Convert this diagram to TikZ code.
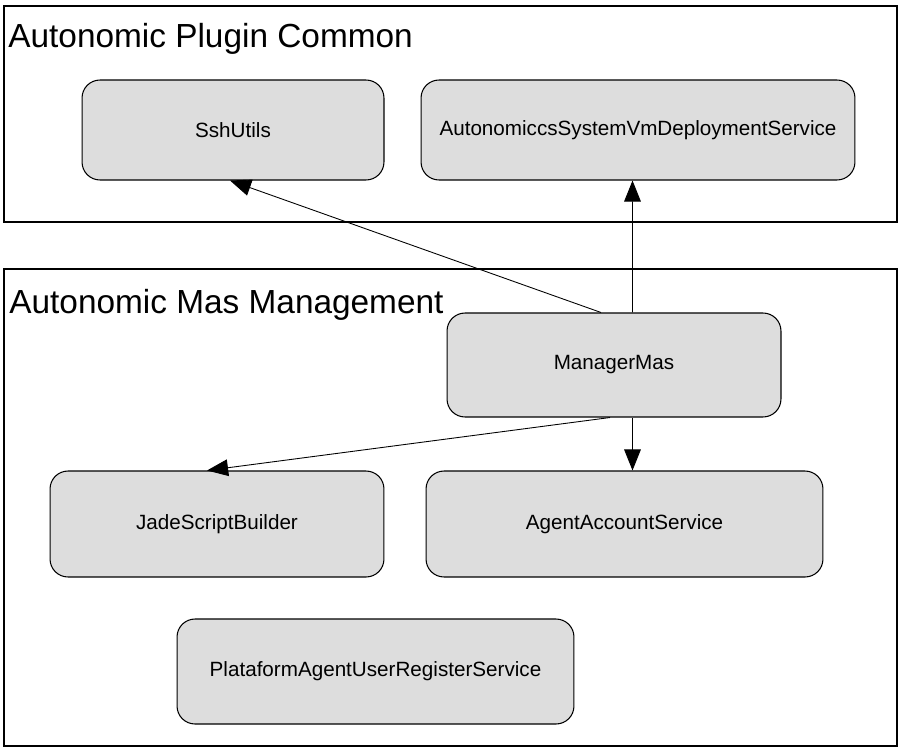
\documentclass[tikz,border=0pt]{standalone}
\usepackage{fontspec}
\setmainfont{Liberation Sans}
\usetikzlibrary{arrows.meta}
\tikzset{
	comp/.style = {draw, line width=0.6pt, fill=boxgray, rounded corners=0.36cm,
		font=\fontsize{11.75pt}{13pt}\selectfont, inner sep=0pt},
	pack/.style = {draw, line width=0.6pt},
	title/.style = {anchor=base west, inner sep=0pt, font=\fontsize{19pt}{22pt}\selectfont},
	dep/.style = {-{Triangle[length=12pt,width=9.5pt]}, line width=0.5pt}
}
\definecolor{boxgray}{HTML}{DDDDDD}
\begin{document}
\begin{tikzpicture}[x=0.02cm, y=-0.02cm]
		\useasboundingbox (0,0) rectangle (906,754);
		% packages
		\draw[pack] (4,6) rectangle (897,222);
		\draw[pack] (4,269) rectangle (897,746);
		\node[title] (tcommon) at (8,47) {Autonomic Plugin Common};
		\node[title] (tmas) at (9,313) {Autonomic Mas Management};
		% components
		\node[comp, minimum width=6.04cm, minimum height=2cm] (ssh) at (233,130) {SshUtils};
		\node[comp, minimum width=8.68cm, minimum height=2cm] (deploy) at (638,130) {AutonomiccsSystemVmDeploymentService};
		\node[comp, minimum width=6.68cm, minimum height=2.08cm] (mgr) at (614,365) {ManagerMas};
		\node[comp, minimum width=6.68cm, minimum height=2.12cm] (jade) at (217,524) {JadeScriptBuilder};
		\node[comp, minimum width=7.94cm, minimum height=2.12cm] (agent) at (624.5,524) {AgentAccountService};
		\node[comp, minimum width=7.94cm, minimum height=2.1cm] (plat) at (375.5,671.5) {PlataformAgentUserRegisterService};
		% dependencies
		\draw[dep] ([xshift=-0.26cm]mgr.north) -- ([xshift=-0.06cm]ssh.south);
		\draw[dep] ([xshift=0.37cm]mgr.north) -- ([xshift=-0.11cm]deploy.south);
		\draw[dep] ([xshift=-0.08cm]mgr.south) -- ([xshift=-0.2cm]jade.north);
		\draw[dep] ([xshift=0.37cm]mgr.south) -- ([xshift=0.37cm]mgr.south |- agent.north);
\end{tikzpicture}
\end{document}
